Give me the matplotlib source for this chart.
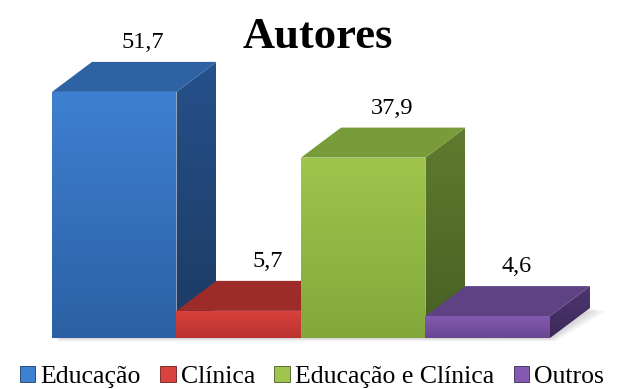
import matplotlib.pyplot as plt
import numpy as np
from matplotlib.colors import LinearSegmentedColormap
from matplotlib.patches import Polygon, Patch

categories = ["Educação", "Clínica", "Educação e Clínica", "Outros"]
values = [51.7, 5.7, 37.9, 4.6]
value_labels = ["51,7", "5,7", "37,9", "4,6"]

# colours per face: front (top -> bottom), top face, side (top -> bottom)
front_top = ["#3e80d1", "#da423d", "#9fc54c", "#8459b0"]
front_bottom = ["#2c60a4", "#b93330", "#82a83c", "#684792"]
top_face = ["#2f62a2", "#9d2b28", "#799c3a", "#5f4284"]
side_top = ["#26518b", "#852624", "#607c2f", "#4e3671"]
side_bottom = ["#1c3a62", "#6c1e1c", "#485f23", "#3c295a"]

plt.rcParams["font.family"] = ["Liberation Serif", "DejaVu Serif"]

# pixel geometry of the plotting area
W, H = 624, 389
px_x = 124.5          # pixels per category
px_y = 4.76           # pixels per value unit
left_px, base_px = 52, 51
dx = 40 / px_x        # depth offset of the 3D boxes
dy = 30 / px_y


def shaded(ax, verts, c_top, c_bot, z):
    """Fill a polygon with a vertical gradient."""
    poly = Polygon(verts, closed=True, facecolor="none", edgecolor="none",
                   zorder=z)
    ax.add_patch(poly)
    xs, ys = zip(*verts)
    cmap = LinearSegmentedColormap.from_list("face", [c_bot, c_top])
    grad = np.linspace(0, 1, 256).reshape(-1, 1)
    im = ax.imshow(grad, extent=(min(xs), max(xs), min(ys), max(ys)),
                   origin="lower", cmap=cmap, aspect="auto", zorder=z,
                   interpolation="bilinear")
    im.set_clip_path(poly)


fig = plt.figure(figsize=(W / 100, H / 100), dpi=100)
ax = fig.add_axes([0, 0, 1, 1])
ax.set_axis_off()

n = len(values)

# soft floor shadow under the row of boxes
for k in range(1, 7):
    ox, oy = k * 0.9 / px_x, -k * 0.55 / px_y
    shadow = Polygon([(-0.5 + ox, oy), (n - 0.5 + ox, oy),
                      (n - 0.5 + dx + 3 * ox, dy + oy),
                      (-0.5 + dx + ox, dy + oy)],
                     closed=True, facecolor="#808080", alpha=0.06,
                     edgecolor="none", zorder=1)
    ax.add_patch(shadow)

for i, v in enumerate(values):
    x0, x1 = i - 0.5, i + 0.5
    z = 2 + i * 3
    side = [(x1, 0), (x1 + dx, dy), (x1 + dx, v + dy), (x1, v)]
    shaded(ax, side, side_top[i], side_bottom[i], z)
    top = [(x0, v), (x1, v), (x1 + dx, v + dy), (x0 + dx, v + dy)]
    ax.add_patch(Polygon(top, closed=True, facecolor=top_face[i],
                         edgecolor="none", zorder=z + 1))
    front = [(x0, 0), (x1, 0), (x1, v), (x0, v)]
    shaded(ax, front, front_top[i], front_bottom[i], z + 2)

    ax.text(i + 0.23, v + dy + 2.9, value_labels[i], ha="center",
            va="baseline", fontsize=17.5, zorder=20)

ax.set_xlim(-0.5 - left_px / px_x, -0.5 + (W - left_px) / px_x)
ax.set_ylim(-base_px / px_y, (H - base_px) / px_y)

fig.text(0.51, 1 - 48 / H, "Autores", ha="center", va="baseline",
         fontsize=32, weight="bold")

handles = [Patch(facecolor=front_top[i], edgecolor=side_bottom[i], lw=0.6)
           for i in range(n)]
fig.legend(handles, categories, loc="lower center",
           bbox_to_anchor=(0.5, 0.003), ncol=4, frameon=False,
           fontsize=18.5, handlelength=0.6,
           handleheight=0.6, handletextpad=0.2, columnspacing=0.75,
           borderaxespad=0, borderpad=0)

fig.savefig("out.png", dpi=100)
